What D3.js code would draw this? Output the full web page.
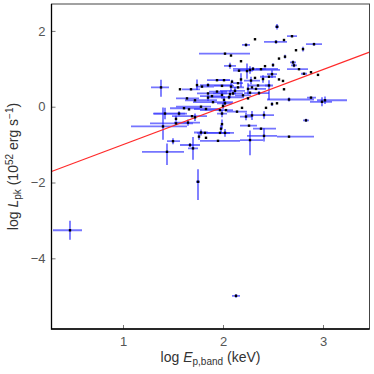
<!DOCTYPE html>
<html>
<head>
<meta charset="utf-8">
<style>
  body { margin: 0; background: #fff; }
  svg { display: block; font-family: "Liberation Sans", Arial, sans-serif; }
  .tick text { fill: #555; font-size: 13px; }
  .tick line { stroke: #777; }
  .lab { fill: #333; font-size: 14px; }
</style>
<script src="https://d3js.org/d3.v7.min.js"></script>
</head>
<body>
<svg width="374" height="374"></svg>
<script>
// log Ep,band (keV) and log Lpk (1e52 erg/s), with asymmetric errors
var logE = [0.47, 1.75, 2.13, 1.38, 2.54, 2.69, 2.61, 2.53, 2.32, 2.23,
  2.91, 2.73, 2.80, 2.02, 2.08, 2.62, 2.56, 2.18, 2.70, 2.71,
  2.07, 2.50, 2.76, 2.81, 2.88, 2.95, 2.16, 2.24, 2.27, 2.42,
  2.38, 2.49, 1.94, 2.01, 2.09, 2.18, 2.28, 2.32, 2.40, 2.46,
  2.56, 2.60, 1.57, 1.68, 1.74, 1.79, 1.85, 1.99, 2.08, 2.15,
  2.25, 2.29, 2.33, 2.46, 2.61, 2.27, 2.10, 2.07, 1.94, 1.85,
  1.85, 1.64, 1.72, 1.89, 1.99, 2.01, 2.25, 2.66, 2.88, 2.99,
  3.02, 2.49, 2.54, 1.61, 1.66, 1.56, 1.53, 1.42, 1.83, 1.97,
  2.00, 2.02, 2.03, 1.99, 2.14, 2.19, 2.23, 2.29, 2.43, 2.41,
  1.72, 1.65, 1.53, 1.40, 2.26, 2.83, 2.38, 1.98, 1.97, 1.99,
  2.02, 1.78, 1.82, 1.76, 1.83, 1.95, 2.41, 2.66, 2.27, 1.50,
  1.67, 1.70, 1.44, 2.12, 2.20, 2.15, 1.90, 2.35, 2.06, 2.30,
  1.78, 1.69, 2.36];
var logL = [-3.26, -1.98, -4.99, 0.51, 2.11, 1.86, 1.76, 1.71, 1.78, 1.63,
  1.65, 1.49, 1.52, 1.40, 1.35, 1.32, 1.27, 1.20, 1.17, 1.09,
  1.08, 1.10, 0.99, 0.87, 0.91, 0.84, 0.95, 0.94, 0.97, 1.07,
  0.99, 0.86, 0.70, 0.70, 0.66, 0.72, 0.69, 0.76, 0.73, 0.79,
  0.72, 0.68, 0.46, 0.46, 0.57, 0.53, 0.57, 0.55, 0.53, 0.51,
  0.47, 0.51, 0.47, 0.56, 0.46, 0.37, 0.35, 0.33, 0.40, 0.35,
  0.24, 0.22, 0.17, 0.28, 0.31, 0.18, 0.22, 0.19, 0.24, 0.13,
  0.17, 0.07, 0.09, -0.04, -0.07, -0.18, -0.32, -0.18, -0.06, -0.09,
  0.02, 0.09, -0.09, -0.18, -0.13, -0.03, -0.26, -0.23, -0.03, -0.22,
  -0.28, -0.42, -0.44, -0.52, -0.50, -0.36, -0.58, -0.58, -0.69, -0.46,
  -0.69, -0.68, -0.69, -0.79, -0.82, -0.90, -0.77, -0.79, -0.88, -0.91,
  -1.01, -1.10, -1.19, 0.42, 0.30, 0.62, 0.12, 0.56, 0.25, 1.00,
  0.00, -0.25, 0.36];
var eLo = [0.17, 0.02, 0.04, 0.10, 0.02, 0.05, 0, 0.12, 0, 0.04,
  0.08, 0, 0, 0.26, 0, 0, 0, 0, 0.03, 0.03,
  0.06, 0, 0.12, 0.03, 0, 0, 0.06, 0, 0.12, 0,
  0.05, 0.05, 0.10, 0.08, 0, 0, 0.07, 0, 0, 0.09,
  0, 0, 0, 0.09, 0, 0.06, 0.08, 0.08, 0, 0.06,
  0, 0, 0.08, 0.04, 0, 0, 0.20, 0, 0.08, 0.11,
  0, 0.11, 0.10, 0.12, 0, 0, 0, 0.22, 0.04, 0.12,
  0.08, 0, 0, 0.14, 0, 0.25, 0, 0.12, 0.12, 0.20,
  0, 0.08, 0, 0.05, 0.10, 0, 0.06, 0, 0, 0.17,
  0, 0.14, 0.26, 0.32, 0.09, 0.03, 0.08, 0, 0.13, 0,
  0.05, 0.07, 0.08, 0, 0, 0.18, 0.17, 0.12, 0.10, 0.06,
  0.10, 0.05, 0.25, 0.15, 0.08, 0.05, 0.20, 0.10, 0.20, 0.20,
  0.25, 0.20, 0.15];
var eHi = [0.12, 0.02, 0.04, 0.08, 0.02, 0.05, 0, 0.11, 0, 0.04,
  0.08, 0, 0, 0.25, 0, 0, 0, 0, 0.03, 0.03,
  0.06, 0, 0.09, 0.03, 0, 0, 0.14, 0, 0.30, 0,
  0.05, 0.05, 0.13, 0.06, 0, 0, 0.09, 0, 0, 0.07,
  0, 0, 0, 0.09, 0, 0.12, 0.25, 0.12, 0, 0.06,
  0, 0, 0.10, 0.04, 0, 0, 0.10, 0, 0.10, 0.19,
  0, 0.12, 0.22, 0.09, 0, 0, 0, 0.25, 0.05, 0.10,
  0.22, 0, 0, 0.16, 0, 0.08, 0, 0.20, 0.14, 0.13,
  0, 0.07, 0, 0.05, 0.10, 0, 0.06, 0, 0, 0.10,
  0, 0.12, 0.17, 0.24, 0.08, 0.03, 0.15, 0, 0.14, 0,
  0.05, 0.07, 0.25, 0, 0, 0.22, 0.13, 0.25, 0.13, 0.07,
  0.10, 0.05, 0.17, 0.10, 0.08, 0.05, 0.20, 0.10, 0.15, 0.25,
  0.10, 0.15, 0.10];
var lLo = [0.25, 0.48, 0.05, 0.25, 0.07, 0.03, 0, 0.05, 0, 0.04,
  0.04, 0, 0.06, 0, 0, 0.05, 0, 0, 0.05, 0.05,
  0.08, 0.05, 0, 0, 0, 0, 0, 0.20, 0.10, 0,
  0, 0.10, 0, 0, 0.05, 0.20, 0.10, 0, 0.10, 0,
  0, 0, 0, 0, 0.13, 0, 0.05, 0, 0.12, 0,
  0.15, 0, 0, 0.38, 0, 0, 0.05, 0.10, 0, 0,
  0.08, 0, 0, 0, 0.10, 0.10, 0, 0.05, 0, 0.12,
  0.10, 0.05, 0, 0, 0, 0.06, 0.08, 0.15, 0, 0,
  0.08, 0.06, 0, 0.10, 0, 0, 0.10, 0.12, 0, 0.10,
  0.10, 0.08, 0, 0.35, 0, 0.04, 0, 0.10, 0, 0.12,
  0.10, 0.08, 0, 0.08, 0, 0, 0.15, 0, 0.40, 0.08,
  0.05, 0.30, 0.35, 0.10, 0, 0, 0, 0, 0.05, 0.05,
  0, 0, 0.05];
var lHi = [0.25, 0.33, 0.05, 0.20, 0.07, 0.03, 0, 0.05, 0, 0.04,
  0.04, 0, 0.06, 0, 0, 0.05, 0, 0, 0.05, 0.05,
  0.08, 0.05, 0, 0, 0, 0, 0, 0.20, 0.10, 0,
  0, 0.10, 0, 0, 0.05, 0.16, 0.10, 0, 0.10, 0,
  0, 0, 0, 0, 0.15, 0, 0.05, 0, 0.10, 0,
  0.15, 0, 0, 0.14, 0, 0, 0.05, 0.10, 0, 0,
  0.08, 0, 0, 0, 0.10, 0.10, 0, 0.05, 0, 0.12,
  0.10, 0.05, 0, 0, 0, 0.06, 0.08, 0.15, 0, 0,
  0.08, 0.06, 0, 0.10, 0, 0, 0.10, 0.12, 0, 0.10,
  0.10, 0.08, 0, 0.50, 0, 0.04, 0, 0.10, 0, 0.12,
  0.10, 0.08, 0, 0.08, 0, 0, 0.20, 0, 0.25, 0.08,
  0.05, 0.30, 0.22, 0.10, 0, 0, 0, 0, 0.05, 0.05,
  0, 0, 0.05];
var xTicks = [1, 2, 3];
var yTicks = [-4, -2, 0, 2];
var fitSlope = 0.99, fitIntercept = -1.99;

var svg = d3.select("svg");
var mLeft = 51.5, mRight = 369.5, mTop = 4, mBottom = 329;

var x = d3.scaleLinear().domain([0.285, 3.465]).range([mLeft, mRight]);
var y = d3.scaleLinear().domain([-5.865, 2.71]).range([mBottom, mTop]);

var data = logE.map(function (e, i) {
  return { x: e, y: logL[i], xl: eLo[i], xh: eHi[i], yl: lLo[i], yh: lHi[i] };
});

// axes, ticks pointing inwards
svg.append("g")
  .attr("transform", "translate(0," + mBottom + ")")
  .call(d3.axisBottom(x).tickValues(xTicks).tickFormat(d3.format("d"))
    .tickSizeInner(-4).tickSizeOuter(0).tickPadding(8))
  .call(function (g) { g.select(".domain").remove(); });

svg.append("g")
  .attr("transform", "translate(" + mLeft + ",0)")
  .call(d3.axisLeft(y).tickValues(yTicks).tickSizeInner(-4).tickSizeOuter(0).tickPadding(6)
    .tickFormat(function (d) { return d < 0 ? "\u2212" + Math.abs(d) : d; }))
  .call(function (g) { g.select(".domain").remove(); });

svg.append("clipPath").attr("id", "clip")
  .append("rect").attr("x", mLeft).attr("y", mTop)
  .attr("width", mRight - mLeft).attr("height", mBottom - mTop);

var plot = svg.append("g").attr("clip-path", "url(#clip)");

// horizontal error bars
plot.selectAll(".hbar").data(data.filter(function (d) { return d.xl + d.xh > 0; }))
  .enter().append("line")
  .attr("x1", function (d) { return x(d.x - d.xl); })
  .attr("x2", function (d) { return x(d.x + d.xh); })
  .attr("y1", function (d) { return y(d.y); })
  .attr("y2", function (d) { return y(d.y); })
  .attr("stroke", "#3a3aff")
  .attr("stroke-opacity", 0.7)
  .attr("stroke-width", 1.8);

// vertical error bars
plot.selectAll(".vbar").data(data.filter(function (d) { return d.yl + d.yh > 0; }))
  .enter().append("line")
  .attr("x1", function (d) { return x(d.x); })
  .attr("x2", function (d) { return x(d.x); })
  .attr("y1", function (d) { return y(d.y - d.yl); })
  .attr("y2", function (d) { return y(d.y + d.yh); })
  .attr("stroke", "#1a1aff")
  .attr("stroke-width", 1.1);

// fit line
var xd = x.domain();
plot.append("line")
  .attr("x1", x(xd[0])).attr("y1", y(fitSlope * xd[0] + fitIntercept))
  .attr("x2", x(xd[1])).attr("y2", y(fitSlope * xd[1] + fitIntercept))
  .attr("stroke", "#ff2a2a")
  .attr("stroke-width", 1.1);

// points
plot.selectAll(".pt").data(data).enter().append("rect")
  .attr("x", function (d) { return x(d.x) - 1.2; })
  .attr("y", function (d) { return y(d.y) - 1.2; })
  .attr("width", 2.4).attr("height", 2.4)
  .attr("fill", "#000");

// frame
svg.append("rect")
  .attr("x", mLeft).attr("y", mTop)
  .attr("width", mRight - mLeft).attr("height", mBottom - mTop)
  .attr("fill", "none").attr("stroke", "#444").attr("stroke-width", 1);
svg.append("path")
  .attr("d", "M" + mLeft + "," + mTop + "V" + mBottom + "H" + mRight)
  .attr("fill", "none").attr("stroke", "#000").attr("stroke-width", 1.3);

// axis titles
var xt = svg.append("text").attr("class", "lab")
  .attr("x", (mLeft + mRight) / 2).attr("y", 362).attr("text-anchor", "middle");
xt.append("tspan").text("log ");
xt.append("tspan").attr("font-style", "italic").text("E");
xt.append("tspan").attr("font-size", "10px").attr("dy", 3).text("p,band");
xt.append("tspan").attr("dy", -3).text(" (keV)");

var yt = svg.append("text").attr("class", "lab")
  .attr("transform", "translate(18," + ((mTop + mBottom) / 2) + ") rotate(-90)")
  .attr("text-anchor", "middle");
yt.append("tspan").text("log ");
yt.append("tspan").attr("font-style", "italic").text("L");
yt.append("tspan").attr("font-size", "10px").attr("dy", 3).text("pk");
yt.append("tspan").attr("dy", -3).text(" (10");
yt.append("tspan").attr("font-size", "10px").attr("dy", -5).text("52");
yt.append("tspan").attr("dy", 5).text(" erg s");
yt.append("tspan").attr("font-size", "10px").attr("dy", -5).text("\u22121");
yt.append("tspan").attr("dy", 5).text(")");
</script>
</body>
</html>
